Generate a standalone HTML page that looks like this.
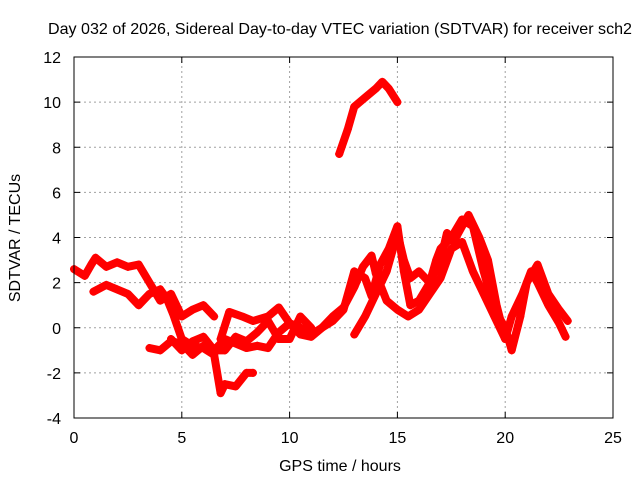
<!DOCTYPE html>
<html><head><meta charset="utf-8"><style>
body{margin:0;background:#fff}
text{font-family:"Liberation Sans",sans-serif;font-size:16px;fill:#000}
</style></head><body>
<svg id="chart" width="640" height="480" viewBox="0 0 640 480" xmlns="http://www.w3.org/2000/svg">
<text x="340" y="34" text-anchor="middle" textLength="584" lengthAdjust="spacingAndGlyphs">Day 032 of 2026, Sidereal Day-to-day VTEC variation (SDTVAR) for receiver sch2</text>
<text transform="translate(20,238) rotate(-90)" text-anchor="middle">SDTVAR / TECUs</text>
<text x="340" y="471" text-anchor="middle">GPS time / hours</text>
<g id="grid"></g><g id="marks"></g><g id="axes"></g>
</svg>
<script>
const xTicks=[0,5,10,15,20,25];
const yTicks=[-4,-2,0,2,4,6,8,10,12];
const trackA=[[0,2.6],[0.5,2.3],[0.8,2.8],[1.0,3.1],[1.5,2.7],[2.0,2.9],[2.5,2.7],[3.0,2.8],[3.5,2.0],[4.0,1.2],[4.5,1.5],[5.0,0.5],[5.5,0.8],[6.0,1.0],[6.5,0.5]];
const trackB=[[0.9,1.6],[1.5,1.9],[2.0,1.7],[2.5,1.5],[3.0,1.0],[3.5,1.5],[4.0,1.7],[4.3,1.3],[4.6,0.6],[5.0,-0.5],[5.5,-0.8],[6.0,-0.9],[6.5,-1.2],[6.8,-2.9],[7.0,-2.5],[7.5,-2.6],[8.0,-2.0],[8.3,-2.0]];
const trackC=[[3.5,-0.9],[4.0,-1.0],[4.5,-0.6],[5.0,-0.7],[5.5,-1.2],[6.0,-0.8],[6.5,-1.0],[7.0,-0.5],[7.5,-0.7],[8.0,-0.9],[8.5,-0.8],[9.0,-0.9],[9.5,-0.2],[10.0,0.2],[10.5,-0.3],[11.0,-0.4],[11.5,0.0],[12.0,0.3],[12.5,0.8],[13.0,2.5],[13.5,2.2],[13.8,1.4],[14.2,2.8],[14.6,3.5],[15.0,4.5],[15.3,2.5],[15.6,1.0],[16.0,1.2],[16.5,2.0],[16.8,3.0],[17.0,3.5],[17.5,4.0],[18.0,4.8],[18.5,4.5],[19.0,2.5],[19.5,0.8],[20.0,0.0],[20.3,-1.0],[20.7,0.5],[21.0,2.0],[21.5,2.8],[22.0,1.5],[22.5,0.8],[22.9,0.3]];
const trackD=[[6.8,-0.5],[7.2,0.7],[7.8,0.5],[8.3,0.3],[9.0,0.5],[9.5,0.9],[10.0,0.2],[10.5,0.0],[11.0,-0.3],[11.5,0.0],[12.0,0.5],[12.5,0.9],[13.0,1.8],[13.4,2.7],[13.8,3.2],[14.0,2.4],[14.5,1.2],[15.0,0.8],[15.5,0.5],[16.0,0.8],[16.5,1.5],[17.0,2.2],[17.5,3.5],[18.0,3.8],[18.5,2.5],[19.0,1.5],[19.5,0.5],[20.0,-0.5],[20.3,0.5],[20.8,1.5],[21.2,2.5],[21.5,2.0],[22.0,1.0],[22.5,0.2],[22.8,-0.4]];
const trackE=[[13.0,-0.3],[13.5,0.5],[14.0,1.5],[14.5,2.5],[14.8,3.5],[15.0,4.2],[15.3,3.0],[15.6,2.2],[16.0,2.5],[16.5,2.0],[17.0,3.0],[17.3,4.2],[17.6,3.8],[18.0,4.5],[18.3,5.0],[18.8,4.0],[19.2,3.0],[19.6,1.0],[20.0,-0.5]];
const trackF=[[12.3,7.7],[12.7,8.8],[13.0,9.8],[13.5,10.2],[14.0,10.6],[14.3,10.9],[14.6,10.6],[15.0,10.0]];
const trackG=[[4.5,-0.5],[5.0,-1.0],[5.5,-0.6],[6.0,-0.4],[6.5,-1.0],[7.0,-1.0],[7.5,-0.4],[8.0,-0.6],[8.5,-0.2],[9.0,0.3],[9.5,-0.5],[10.0,-0.5],[10.5,0.5],[11.0,0.0]];
const tracks=[trackA,trackB,trackC,trackD,trackE,trackF,trackG];
const X0=74,X1=613,Y0=418,Y1=57,xmin=0,xmax=25,ymin=-4,ymax=12;
const sx=t=>X0+(t-xmin)/(xmax-xmin)*(X1-X0);
const sy=v=>Y0-(v-ymin)/(ymax-ymin)*(Y0-Y1);
const NS="http://www.w3.org/2000/svg";
function mk(tag,attrs,parent){const e=document.createElementNS(NS,tag);for(const k in attrs)e.setAttribute(k,attrs[k]);parent.appendChild(e);return e;}
const grid=document.getElementById('grid'),axes=document.getElementById('axes'),marks=document.getElementById('marks');
xTicks.forEach(t=>{
 if(t>xmin&&t<xmax){const l=mk('line',{x1:sx(t),x2:sx(t),y1:Y0,y2:Y1,stroke:'#a0a0a0','stroke-dasharray':'2,3'},grid);
 
 }
 const tk=mk('path',{d:`M${sx(t)},${Y0}v-6M${sx(t)},${Y1}v6`,stroke:'#000'},axes);
 
 
 const tx=mk('text',{x:sx(t),y:Y0+25,'text-anchor':'middle'},axes);tx.textContent=t;
 
 
});
yTicks.forEach(v=>{
 if(v>ymin&&v<ymax){const l=mk('line',{x1:X0,x2:X1,y1:sy(v),y2:sy(v),stroke:'#a0a0a0','stroke-dasharray':'2,3'},grid);
 
 }
 const tk=mk('path',{d:`M${X0},${sy(v)}h6M${X1},${sy(v)}h-6`,stroke:'#000'},axes);
 
 
 const tx=mk('text',{x:X0-13,y:sy(v)+6,'text-anchor':'end'},axes);tx.textContent=v;
 
 
});
const frame=mk('rect',{x:X0,y:Y1,width:X1-X0,height:Y0-Y1,fill:'none',stroke:'#000'},axes);


tracks.forEach((tr,i)=>{
 const p=mk('polyline',{points:tr.map(d=>sx(d[0])+','+sy(d[1])).join(' '),fill:'none',stroke:'#ff0000','stroke-width':8,'stroke-linejoin':'round','stroke-linecap':'round'},marks);
 
 
 tr.forEach(d=>{
  const m=mk('path',{d:`M${sx(d[0])-4},${sy(d[1])}h8M${sx(d[0])},${sy(d[1])-4}v8`,stroke:'#ff0000','stroke-width':1.5},marks);
  
  
 });
});
</script>
</body></html>
